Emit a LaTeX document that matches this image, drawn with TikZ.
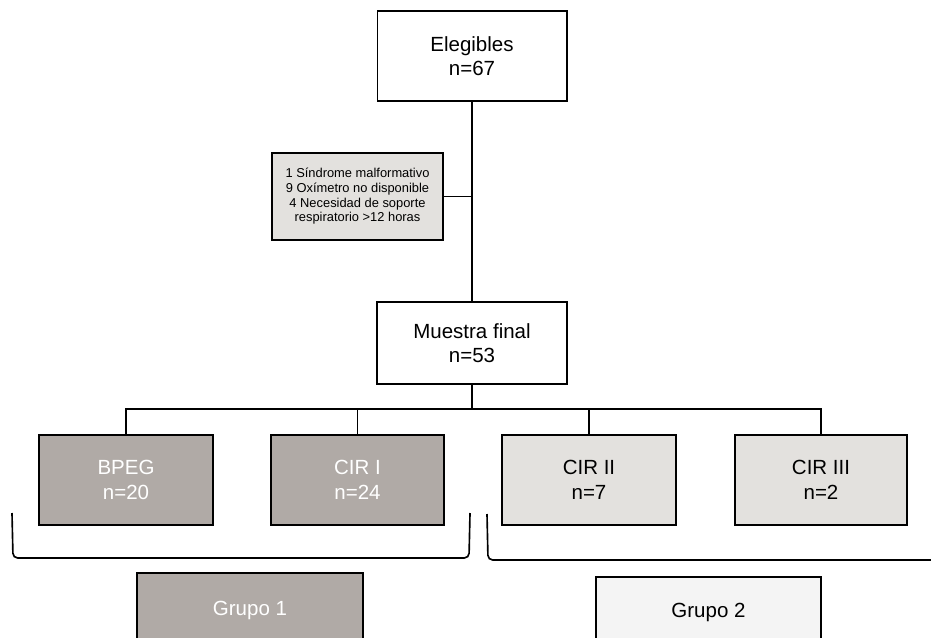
\documentclass[tikz,border=0pt]{standalone}
\usepackage{fontspec}
\setmainfont{Liberation Sans}
\definecolor{grupodark}{RGB}{176, 170, 166}
\definecolor{grupolight}{RGB}{227, 225, 222}
\definecolor{grupopale}{RGB}{244, 244, 244}
\usetikzlibrary{positioning}

\begin{document}
\begin{tikzpicture}[x=0.03cm, y=-0.03cm,
    box/.style={draw, line width=1.7pt, align=center, inner sep=0pt,
        font=\fontsize{17.5}{21}\selectfont},
    line/.style={line width=1.4pt}]
    \clip (0,0) rectangle (931,637);
    \node[box, minimum width=5.67cm, minimum height=2.7cm] (eleg) at (472,56) {Elegibles\\n=67};
    \node[box, fill=grupolight, minimum width=5.13cm, minimum height=2.61cm,
        font=\fontsize{11}{12.5}\selectfont] (excl) at (357.5,196.5)
        {1 Síndrome malformativo\\9 Oxímetro no disponible\\4 Necesidad de soporte\\respiratorio >12 horas};
    \node[box, minimum width=5.7cm, minimum height=2.46cm] (muestra) at (472,343) {Muestra final\\n=53};
    \node[box, fill=grupodark, text=white, minimum width=5.22cm, minimum height=2.7cm] (bpeg) at (126,480) {BPEG\\n=20};
    \node[box, fill=grupodark, text=white, minimum width=5.19cm, minimum height=2.7cm] (cir1) at (357.5,480) {CIR I\\n=24};
    \node[box, fill=grupolight, minimum width=5.22cm, minimum height=2.7cm] (cir2) at (589,480) {CIR II\\n=7};
    \node[box, fill=grupolight, minimum width=5.16cm, minimum height=2.7cm] (cir3) at (821,480) {CIR III\\n=2};
    \node[box, fill=grupodark, text=white, minimum width=6.78cm, minimum height=2.22cm] (g1) at (250,610) {Grupo 1};
    \node[box, fill=grupopale, minimum width=6.75cm, minimum height=2.1cm] (g2) at (708.5,612) {Grupo 2};

    \coordinate (split) at (472,409);
    \draw[line] (eleg) -- (muestra);
    \draw[line] (excl.east) -- (excl.east -| eleg.south);
    \draw[line] (muestra) -- (split);
    \draw[line] (bpeg.north) |- (split) -| (cir3.north);
    \draw[line] (cir1.north) -- (cir1.north |- split);
    \draw[line] (cir2.north) -- (cir2.north |- split);

    % llaves de los grupos
    \draw[line, rounded corners=4pt] (12,513) -- (13,558) -- (469,558) -- (470,513);
    \draw[line, rounded corners=4pt] (487,514) -- (488,560) -- (940,560);
\end{tikzpicture}
\end{document}
